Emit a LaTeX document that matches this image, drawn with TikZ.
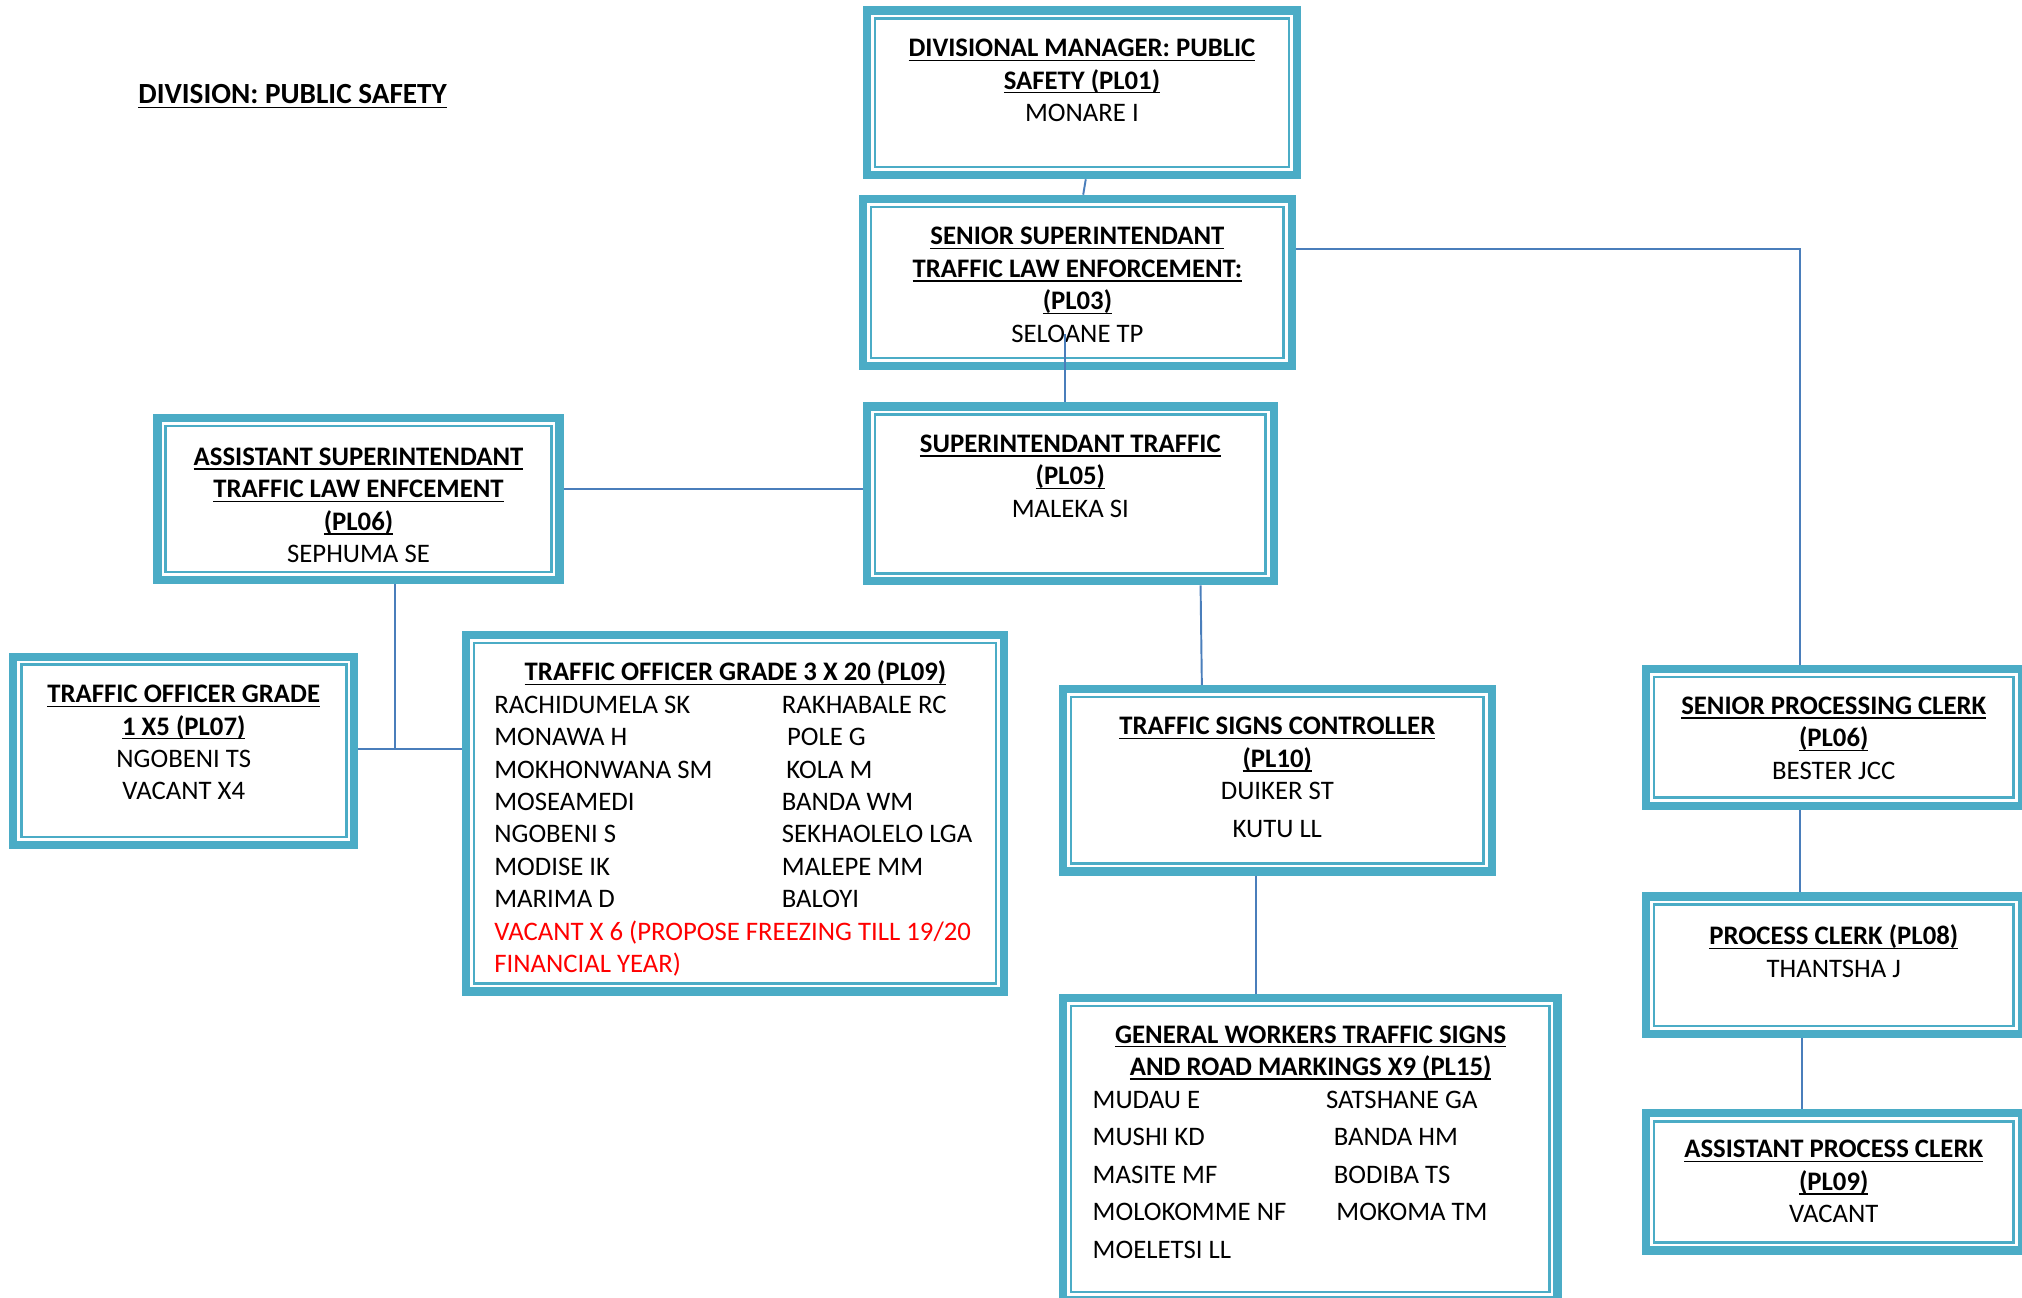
\documentclass[tikz,border=0pt]{standalone}
\usepackage{fontspec}
\setmainfont{Carlito}
\usepackage{array}
\usetikzlibrary{positioning}

\definecolor{postteal}{HTML}{4BACC6}
\definecolor{linkblue}{HTML}{4A7EBB}
\definecolor{vacred}{HTML}{FF0000}

\newsavebox{\titlebox}
\newcommand{\posttitle}[1]{\sbox{\titlebox}{\bfseries #1}%
  \rlap{\rule[-1.9pt]{\wd\titlebox}{0.65pt}}\usebox{\titlebox}}

\tikzset{
  post/.style={draw=postteal, line width=1.3mm, fill=white, inner sep=0pt,
    path picture={\draw[postteal, line width=0.4mm]
      ([shift={(1.25mm,-1.25mm)}]path picture bounding box.north west) rectangle
      ([shift={(-1.25mm,1.25mm)}]path picture bounding box.south east);}},
  posttext/.style={anchor=north, inner sep=0pt, align=center,
    font=\fontsize{11.8pt}{14.3pt}\selectfont, execute at begin node=\strut},
  link/.style={draw=linkblue, line width=0.3mm},
}

\begin{document}
\begin{tikzpicture}[x=0.2mm, y=-0.2mm]
    \useasboundingbox (0,0) rectangle (1568,1006.5);
    \clip (0,0) rectangle (1568,1006.5);

    \node[posttext, anchor=north west, font=\fontsize{12.9pt}{15.5pt}\selectfont]
      (division) at (107,61) {\posttitle{DIVISION: PUBLIC SAFETY}};

    % boxes
    \node[post, minimum width=66.7mm, minimum height=25.5mm]
      (dm) at (839,72) {};
    \node[post, minimum width=66.5mm, minimum height=25.9mm]
      (sst) at (835.5,219) {};
    \node[post, minimum width=63.1mm, minimum height=27.1mm]
      (sup) at (830,383) {};
    \node[post, minimum width=62.3mm, minimum height=25.1mm]
      (asl) at (278,387) {};
    \node[post, minimum width=52.9mm, minimum height=29.2mm]
      (toa) at (142.5,582.25) {};
    \node[post, minimum width=83.5mm, minimum height=55.3mm]
      (tog) at (570,630.5) {};
    \node[post, minimum width=66.5mm, minimum height=28.3mm]
      (tsc) at (990.5,605) {};
    \node[post, minimum width=76.7mm, minimum height=46.9mm]
      (gw) at (1016,891) {};
    \node[post, minimum width=58.3mm, minimum height=21.2mm]
      (spc) at (1422,571.8) {};
    \node[post, minimum width=58.3mm, minimum height=21.3mm]
      (pc) at (1422,748.5) {};
    \node[post, minimum width=58.3mm, minimum height=21.3mm]
      (apc) at (1422,916.5) {};

    % texts
    \node[posttext] (dmtext) at (839,30)
      {\posttitle{DIVISIONAL MANAGER: PUBLIC}\\\posttitle{SAFETY (PL01)}\\MONARE I};
    \node[posttext] (ssttext) at (835.5,176)
      {\posttitle{SENIOR SUPERINTENDANT}\\\posttitle{TRAFFIC LAW ENFORCEMENT:}\\
       \posttitle{(PL03)}\\SELOANE TP};
    \node[posttext] (suptext) at (830,337)
      {\posttitle{SUPERINTENDANT TRAFFIC}\\\posttitle{(PL05)}\\MALEKA SI};
    \node[posttext] (asltext) at (278,347)
      {\posttitle{ASSISTANT SUPERINTENDANT}\\\posttitle{TRAFFIC LAW ENFCEMENT}\\
       \posttitle{(PL06)}\\SEPHUMA SE};
    \node[posttext] (toatext) at (142.5,531)
      {\posttitle{TRAFFIC OFFICER GRADE}\\\posttitle{1 X5 (PL07)}\\NGOBENI TS\\VACANT X4};
    \node[posttext, anchor=north west] (togtext) at (383,510) {%
      \begin{tabular}{@{}p{44.6mm}@{}p{30.2mm}@{}}
        \multicolumn{2}{c}{\posttitle{TRAFFIC OFFICER GRADE 3 X 20 (PL09)}}\\
        RACHIDUMELA SK & RAKHABALE RC\\
        MONAWA H & \hspace*{0.8mm}POLE G\\
        MOKHONWANA SM & \hspace*{0.7mm}KOLA M\\
        MOSEAMEDI & BANDA WM\\
        NGOBENI S & SEKHAOLELO LGA\\
        MODISE IK & MALEPE MM\\
        MARIMA D & BALOYI\\
        \multicolumn{2}{@{}l@{}}{\color{vacred}VACANT X 6 (PROPOSE FREEZING TILL 19/20}\\
        \multicolumn{2}{@{}l@{}}{\color{vacred}FINANCIAL YEAR)}
      \end{tabular}};
    \node[posttext] (tsctext) at (990.5,556)
      {\posttitle{TRAFFIC SIGNS CONTROLLER}\\\posttitle{(PL10)}\\DUIKER ST\\[2.3pt]KUTU LL};
    \node[posttext, anchor=north west] (gwtext) at (847,791) {%
      \begin{tabular}{@{}p{36.2mm}@{}p{31.4mm}@{}}
        \multicolumn{2}{c}{\posttitle{GENERAL WORKERS TRAFFIC SIGNS}}\\
        \multicolumn{2}{c}{\posttitle{AND ROAD MARKINGS X9 (PL15)}}\\
        MUDAU E & SATSHANE GA\\[2.3pt]
        MUSHI KD & \hspace*{1.2mm}BANDA HM\\[2.3pt]
        MASITE MF & \hspace*{1.2mm}BODIBA TS\\[2.3pt]
        MOLOKOMME NF & \hspace*{1.6mm}MOKOMA TM\\[2.3pt]
        MOELETSI LL &
      \end{tabular}};
    \node[posttext] (spctext) at (1422,540)
      {\posttitle{SENIOR PROCESSING CLERK}\\\posttitle{(PL06)}\\BESTER JCC};
    \node[posttext] (pctext) at (1422,717)
      {\posttitle{PROCESS CLERK (PL08)}\\THANTSHA J};
    \node[posttext] (apctext) at (1422,884)
      {\posttitle{ASSISTANT PROCESS CLERK}\\\posttitle{(PL09)}\\VACANT};

    % connectors
    \coordinate (sstin) at (826,259);
    \coordinate (jn) at (306,581);
    \draw[link] ([xshift=0.6mm]dm.south) -- ([xshift=0.9mm]sst.north);
    \draw[link] (sstin) -- (sstin |- sup.north);
    \draw[link] ([yshift=5.2mm]sst.east) -| ([xshift=-5.2mm]spc.north);
    \draw[link] ([yshift=1.6mm]asl.east) -- ([yshift=1.6mm]asl.east -| sup.west);
    \draw[link] (asl.south -| jn) -- (jn);
    \draw[link] (toa.east |- jn) -- (tog.west |- jn);
    \draw[link] ([xshift=20.2mm]sup.south) -- ([xshift=-11.7mm]tsc.north);
    \draw[link] ([xshift=-3.3mm]tsc.south) -- ([xshift=-3.3mm]tsc.south |- gw.north);
    \draw[link] ([xshift=-5.2mm]spc.south) -- ([xshift=-5.2mm]pc.north);
    \draw[link] ([xshift=-4.9mm]pc.south) -- ([xshift=-4.9mm]apc.north);
  \end{tikzpicture}
\end{document}
